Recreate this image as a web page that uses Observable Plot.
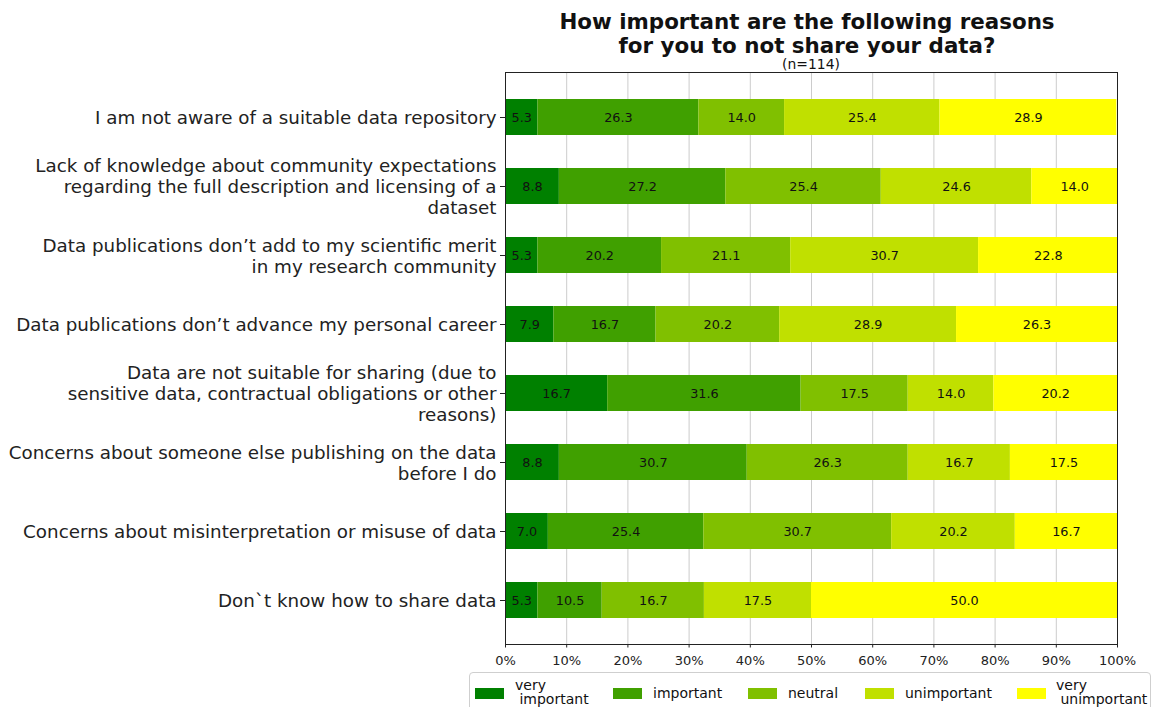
<!DOCTYPE html>
<html>
<head>
<meta charset="utf-8">
<script src="https://cdn.jsdelivr.net/npm/d3@7"></script>
<script src="https://cdn.jsdelivr.net/npm/@observablehq/plot@0.6"></script>
<style>
  html, body { margin: 0; padding: 0; background: #fff; }
  body { width: 1153px; height: 707px; position: relative; overflow: hidden; font-family: "DejaVu Sans", sans-serif; color: #111; }
  #title { position: absolute; left: 501px; width: 612px; top: 10px; text-align: center; font-weight: bold; font-size: 21.4px; line-height: 24px; }
  #subtitle { position: absolute; left: 505px; width: 612px; top: 57px; text-align: center; font-size: 13.9px; line-height: 14px; }
  #chart { position: absolute; left: 0; top: 70px; }
  #legend { position: absolute; left: 469px; top: 672px; width: 682px; height: 44px; border: 1px solid #cfcfcf; border-radius: 4px; box-sizing: border-box; }
  .sw { position: absolute; top: 15px; width: 29px; height: 11px; }
  .lt { position: absolute; font-size: 14px; line-height: 13.5px; white-space: pre; color: #111; }
</style>
</head>
<body>
<div id="title">How important are the following reasons<br>for you to not share your data?</div>
<div id="subtitle">(n=114)</div>
<div id="chart"></div>
<div id="legend"></div>
<script>
const questions = [
  "I am not aware of a suitable data repository",
  "Lack of knowledge about community expectations\nregarding the full description and licensing of a\ndataset",
  "Data publications don’t add to my scientific merit\nin my research community",
  "Data publications don’t advance my personal career",
  "Data are not suitable for sharing (due to\nsensitive data, contractual obligations or other\nreasons)",
  "Concerns about someone else publishing on the data\nbefore I do",
  "Concerns about misinterpretation or misuse of data",
  "Don`t know how to share data"
];
const categories = ["very important", "important", "neutral", "unimportant", "very unimportant"];
const legendLabels = ["very\n important", "important", "neutral", "unimportant", "very\n unimportant"];
const colors = ["#008000", "#40a000", "#80c000", "#c0e000", "#ffff00"];

const veryImportant   = [5.3, 8.8, 5.3, 7.9, 16.7, 8.8, 7.0, 5.3];
const important       = [26.3, 27.2, 20.2, 16.7, 31.6, 30.7, 25.4, 10.5];
const neutral         = [14.0, 25.4, 21.1, 20.2, 17.5, 26.3, 30.7, 16.7];
const unimportant     = [25.4, 24.6, 30.7, 28.9, 14.0, 16.7, 20.2, 17.5];
const veryUnimportant = [28.9, 14.0, 22.8, 26.3, 20.2, 17.5, 16.7, 50.0];

const xTicks = [0, 10, 20, 30, 40, 50, 60, 70, 80, 90, 100];

const series = [veryImportant, important, neutral, unimportant, veryUnimportant];
const rows = [];
questions.forEach((q, i) => {
  categories.forEach((c, j) => {
    rows.push({question: q, category: c, value: series[j][i]});
  });
});

const chart = Plot.plot({
  width: 1153,
  height: 602,
  marginTop: 2,
  marginBottom: 28,
  marginLeft: 505,
  marginRight: 36,
  style: {fontFamily: "DejaVu Sans, sans-serif", color: "#222", background: "transparent", overflow: "visible"},
  x: {domain: [0, 100]},
  y: {type: "band", domain: questions, paddingInner: 0.48, paddingOuter: 0.36},
  color: {domain: categories, range: colors},
  marks: [
    Plot.gridX(xTicks, {stroke: "#cccccc", strokeOpacity: 1, strokeWidth: 1}),
    Plot.barX(rows, Plot.stackX({x: "value", y: "question", fill: "category", z: "category"})),
    Plot.text(rows, Plot.stackX({x: "value", y: "question", z: "category", text: d => d.value.toFixed(1), fill: "#111", fontSize: 12.8})),
    Plot.axisX({ticks: xTicks, tickFormat: d => d + "%", tickSize: 3.5, tickPadding: 8, fontSize: 13, label: null}),
    Plot.axisY({tickSize: 5, tickPadding: 4, fontSize: 18.3, lineHeight: 1.15, label: null}),
    Plot.frame({stroke: "#222"})
  ]
});
document.getElementById("chart").appendChild(chart);

// legend
const swX = [475, 613, 748, 865, 1017];
const txX = [515, 653, 788, 905, 1056];
const legend = d3.select("#legend");
categories.forEach((c, i) => {
  legend.append("div").attr("class", "sw")
    .style("left", (swX[i] - 470) + "px")
    .style("background", colors[i]);
  const lab = legendLabels[i];
  const twoLine = lab.includes("\n");
  legend.append("div").attr("class", "lt")
    .style("left", (txX[i] - 470) + "px")
    .style("top", (twoLine ? 6 : 14) + "px")
    .text(lab);
});
</script>
</body>
</html>
